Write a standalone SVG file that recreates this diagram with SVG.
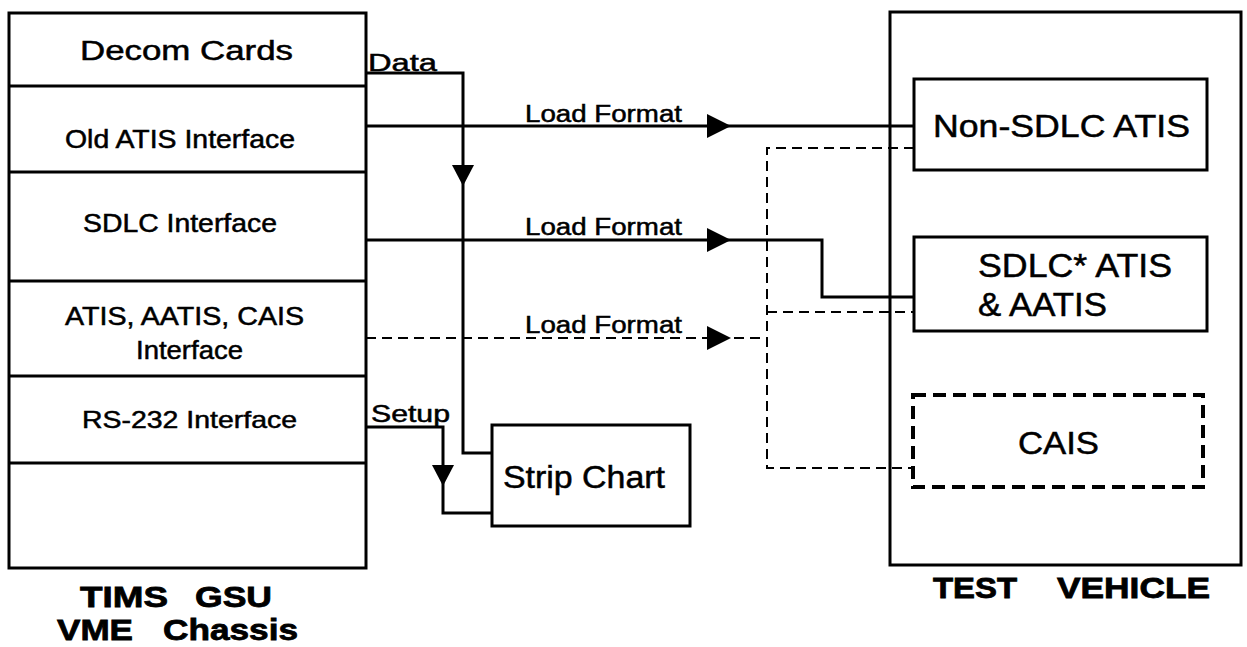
<svg xmlns="http://www.w3.org/2000/svg" width="1247" height="647" viewBox="0 0 1247 647">
<style>
.box{fill:none;stroke:#000;stroke-width:3}
.t{font-family:"Liberation Sans",Arial,sans-serif;fill:#000;stroke:#000;stroke-width:0.5}
.b{font-weight:bold;stroke-width:0.8}
.ln{fill:none;stroke:#000;stroke-width:3}
.dash{fill:none;stroke:#000;stroke-width:2;stroke-dasharray:10 6}
.cais{fill:none;stroke:#000;stroke-width:4;stroke-dasharray:13 7}
.ah{fill:#000}
</style>
<defs>
<path id="arR" d="M0,0 L-24,-12 L-24,12 Z"/>
<path id="arD" d="M0,0 L-11,-21 L11,-21 Z"/>
</defs>
<rect width="1247" height="647" fill="#fff"/>

<g id="connectors">
<path class="ln" d="M366,73 H463 V453 H492"/>
<path class="ln" d="M366,126 H914"/>
<path class="ln" d="M366,240 H822 V297 H914"/>
<path class="dash" d="M366,338 H767"/>
<path class="ln" d="M366,427 H443 V513 H492"/>
<path class="dash" d="M914,148 H767 V468 H914"/>
<path class="dash" d="M767,312 H914"/>
<use href="#arD" class="ah" x="463" y="186"/>
<use href="#arD" class="ah" x="443" y="486"/>
<use href="#arR" class="ah" x="731" y="126"/>
<use href="#arR" class="ah" x="731" y="240"/>
<use href="#arR" class="ah" x="731" y="338"/>
<text class="t" x="368" y="71" font-size="23" textLength="69" lengthAdjust="spacingAndGlyphs">Data</text>
<text class="t" x="525" y="122" font-size="23" textLength="157" lengthAdjust="spacingAndGlyphs">Load Format</text>
<text class="t" x="525" y="235" font-size="23" textLength="157" lengthAdjust="spacingAndGlyphs">Load Format</text>
<text class="t" x="525" y="333" font-size="23" textLength="157" lengthAdjust="spacingAndGlyphs">Load Format</text>
<text class="t" x="371" y="422" font-size="23" textLength="79" lengthAdjust="spacingAndGlyphs">Setup</text>
</g>

<g id="chassis">
<rect class="box" x="9" y="13" width="357" height="555"/>
<path class="box" d="M9,86 H366 M9,172 H366 M9,281 H366 M9,376 H366 M9,463 H366"/>
<text class="t" x="80" y="60" font-size="27" textLength="213" lengthAdjust="spacingAndGlyphs">Decom Cards</text>
<text class="t" x="65" y="148" font-size="25" textLength="230" lengthAdjust="spacingAndGlyphs">Old ATIS Interface</text>
<text class="t" x="83" y="232" font-size="25" textLength="194" lengthAdjust="spacingAndGlyphs">SDLC Interface</text>
<text class="t" x="65" y="325" font-size="25" textLength="239" lengthAdjust="spacingAndGlyphs">ATIS, AATIS, CAIS</text>
<text class="t" x="136" y="359" font-size="25" textLength="107" lengthAdjust="spacingAndGlyphs">Interface</text>
<text class="t" x="82" y="428" font-size="24" textLength="215" lengthAdjust="spacingAndGlyphs">RS-232 Interface</text>
<text class="t b" font-size="30"><tspan x="80" y="607" textLength="88" lengthAdjust="spacingAndGlyphs">TIMS</tspan><tspan x="195" y="607" textLength="77" lengthAdjust="spacingAndGlyphs">GSU</tspan></text>
<text class="t b" font-size="30"><tspan x="57" y="640" textLength="76" lengthAdjust="spacingAndGlyphs">VME</tspan><tspan x="163" y="640" textLength="135" lengthAdjust="spacingAndGlyphs">Chassis</tspan></text>
</g>

<g id="strip-chart">
<rect class="box" x="492" y="425" width="198" height="101"/>
<text class="t" x="503" y="488" font-size="31" textLength="162" lengthAdjust="spacingAndGlyphs">Strip Chart</text>
</g>

<g id="test-vehicle">
<rect class="box" x="890" y="12" width="351" height="553" stroke-width="3.5"/>
<text class="t b" font-size="29"><tspan x="933" y="598" textLength="84" lengthAdjust="spacingAndGlyphs">TEST</tspan><tspan x="1057" y="598" textLength="153" lengthAdjust="spacingAndGlyphs">VEHICLE</tspan></text>
</g>

<g id="non-sdlc-atis">
<rect class="box" x="914" y="79" width="293" height="91" fill="#fff"/>
<text class="t" x="933" y="137" font-size="31" textLength="257" lengthAdjust="spacingAndGlyphs">Non-SDLC ATIS</text>
</g>

<g id="sdlc-atis">
<rect class="box" x="914" y="237" width="293" height="94" fill="#fff"/>
<text class="t" x="978" y="277" font-size="33" textLength="194" lengthAdjust="spacingAndGlyphs">SDLC* ATIS</text>
<text class="t" x="978" y="316" font-size="33" textLength="129" lengthAdjust="spacingAndGlyphs">&amp; AATIS</text>
</g>

<g id="cais">
<rect class="cais" x="913" y="395" width="290" height="92"/>
<text class="t" x="1018" y="454" font-size="32" textLength="81" lengthAdjust="spacingAndGlyphs">CAIS</text>
</g>
</svg>
